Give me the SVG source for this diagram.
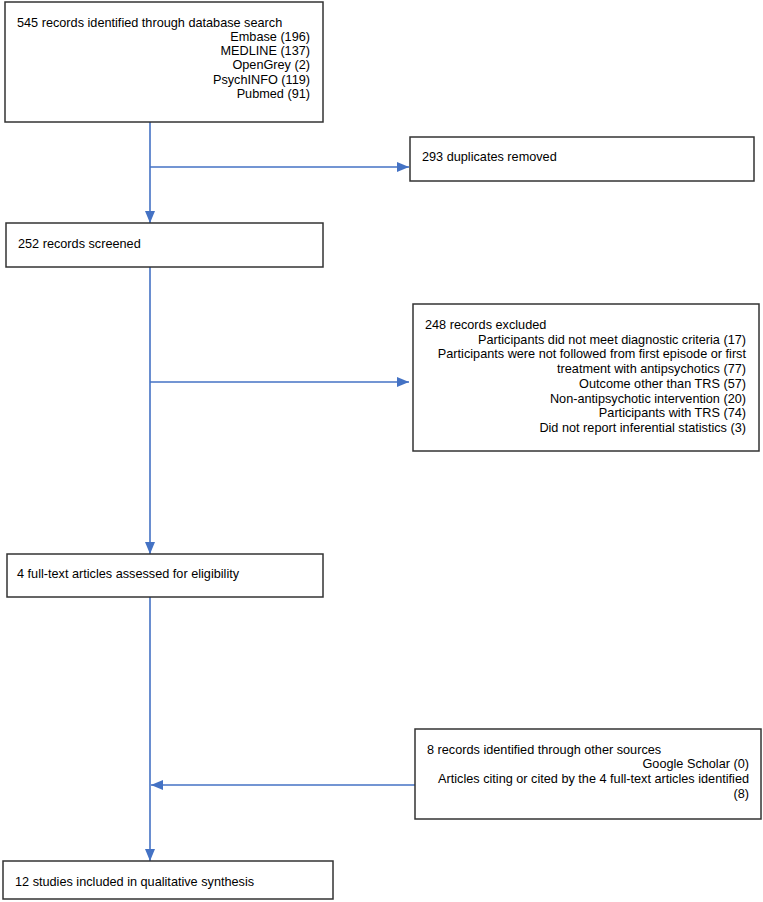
<svg xmlns="http://www.w3.org/2000/svg" width="763" height="902" viewBox="0 0 763 902">
<style>
.box{fill:#fff;stroke:#333;stroke-width:1.5}
text{font-family:"Liberation Sans",Arial,sans-serif;font-size:12.7px;fill:#000}
.r{text-anchor:end}
.ln{fill:none;stroke:#4472C4;stroke-width:1.6}
</style>
<defs>
<marker id="ah" markerUnits="userSpaceOnUse" markerWidth="12" markerHeight="12" viewBox="0 0 12 12" refX="12" refY="6" orient="auto">
<path d="M0,1 L12,6 L0,11 Z" fill="#4472C4"/>
</marker>
</defs>
<rect width="763" height="902" fill="#fff"/>
<g id="connectors">
<path class="ln" d="M150,122 V223" marker-end="url(#ah)"/>
<path class="ln" d="M150,167 H409" marker-end="url(#ah)"/>
<path class="ln" d="M150,267 V554" marker-end="url(#ah)"/>
<path class="ln" d="M150,382 H409" marker-end="url(#ah)"/>
<path class="ln" d="M150,597 V861" marker-end="url(#ah)"/>
<path class="ln" d="M415,785 H151" marker-end="url(#ah)"/>
</g>
<g id="n1">
<rect class="box" x="5" y="2" width="318" height="120"/>
<text x="17" y="27">545 records identified through database search</text>
<text class="r" x="310" y="41">Embase (196)</text>
<text class="r" x="310" y="55">MEDLINE (137)</text>
<text class="r" x="310" y="69">OpenGrey (2)</text>
<text class="r" x="310" y="84">PsychINFO (119)</text>
<text class="r" x="310" y="98">Pubmed (91)</text>
</g>
<g id="n2">
<rect class="box" x="410" y="137" width="344" height="44"/>
<text x="422" y="161">293 duplicates removed</text>
</g>
<g id="n3">
<rect class="box" x="6" y="223" width="317" height="44"/>
<text x="18" y="248">252 records screened</text>
</g>
<g id="n4">
<rect class="box" x="413" y="304" width="346" height="147"/>
<text x="425" y="329">248 records excluded</text>
<text class="r" x="746" y="343.7">Participants did not meet diagnostic criteria (17)</text>
<text class="r" x="746" y="358.4">Participants were not followed from first episode or first</text>
<text class="r" x="746" y="373.1">treatment with antipsychotics (77)</text>
<text class="r" x="746" y="387.8">Outcome other than TRS (57)</text>
<text class="r" x="746" y="402.5">Non-antipsychotic intervention (20)</text>
<text class="r" x="746" y="417.2">Participants with TRS (74)</text>
<text class="r" x="746" y="431.9">Did not report inferential statistics (3)</text>
</g>
<g id="n5">
<rect class="box" x="7" y="554" width="316" height="43"/>
<text x="17" y="578">4 full-text articles assessed for eligibility</text>
</g>
<g id="n6">
<rect class="box" x="415" y="729" width="346" height="90"/>
<text x="427" y="754">8 records identified through other sources</text>
<text class="r" x="749" y="768">Google Scholar (0)</text>
<text class="r" x="749" y="783">Articles citing or cited by the 4 full-text articles identified</text>
<text class="r" x="749" y="798">(8)</text>
</g>
<g id="n7">
<rect class="box" x="3" y="861" width="330" height="38"/>
<text x="15" y="886">12 studies included in qualitative synthesis</text>
</g>
</svg>
